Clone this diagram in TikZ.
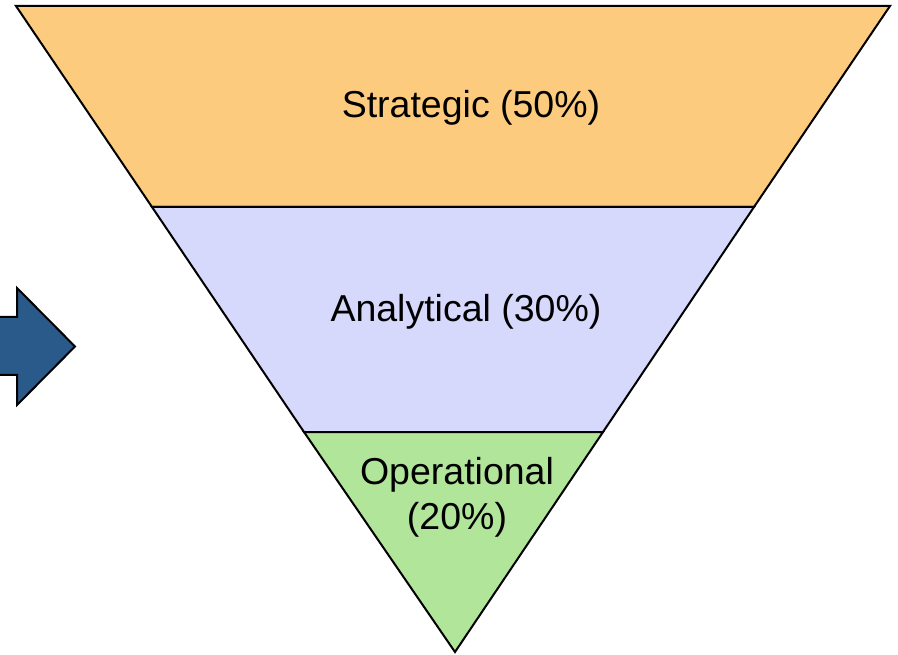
\documentclass[tikz,border=0pt]{standalone}
\usepackage{fontspec}
\setmainfont{Liberation Sans}
\definecolor{strategicfill}{HTML}{FDCB7D}
\definecolor{analyticfill}{HTML}{D6D8FC}
\definecolor{operatefill}{HTML}{B0E59A}
\definecolor{arrowfill}{HTML}{2A5A8A}
\tikzset{
  band/.style={draw=black, line width=2pt, line join=miter},
  label/.style={font=\fontsize{37.5}{45}\selectfont, align=center, inner sep=0pt}
}
\begin{document}
\begin{tikzpicture}[x=1pt, y=-1pt]
	%%%%% FUNNEL %%%%%
	\clip (0, 0) rectangle (898, 655);
	\fill[white] (0, 0) rectangle (898, 655);

	\draw[band, fill=strategicfill] (16, 6) -- (890, 6) -- (754, 207) -- (152, 207) -- cycle;
	\draw[band, fill=analyticfill] (152, 207) -- (754, 207) -- (603, 432) -- (304, 432) -- cycle;
	\draw[band, fill=operatefill] (304, 432) -- (603, 432) -- (455, 652) -- cycle;

	\node[label] (strategic) at (471, 108) {Strategic (50\%)};
	\node[label] (analytical) at (466, 312) {Analytical (30\%)};
	\node[label] (operational) at (457, 497) {Operational\\(20\%)};

	%%%%% ARROW %%%%%
	\draw[line width=2pt, fill=arrowfill] (-20, 317) -- (17, 317) -- (17, 288) -- (75, 346.5) -- (17, 405) -- (17, 375) -- (-20, 375) -- cycle;
	%%%%% END %%%%%
\end{tikzpicture}
\end{document}
